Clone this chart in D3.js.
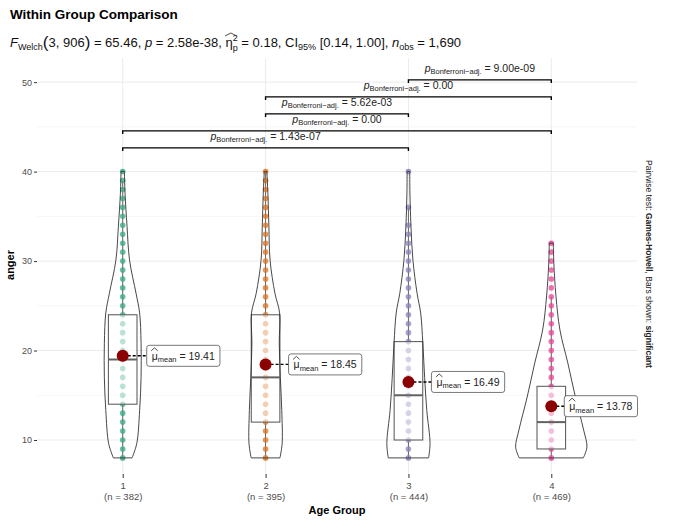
<!DOCTYPE html>
<html>
<head>
<meta charset="utf-8">
<script src="https://cdn.jsdelivr.net/npm/d3@7"></script>
<style>
  body { margin: 0; background: #fff; }
  svg { font-family: "Liberation Sans", Arial, sans-serif; }
</style>
</head>
<body>
<svg id="chart"></svg>
<script>
// ---- data ----
const groups = ["1", "2", "3", "4"];
const nObs = [382, 395, 444, 469];
const means = [19.41, 18.45, 16.49, 13.78];
const q1 = [14, 12, 10, 9];
const medians = [19, 17, 15, 12];
const q3 = [24, 24, 21, 16];
const whiskerLow = [8, 8, 8, 8];
const whiskerHigh = [39, 40, 36, 26];

const dots1 = [8, 9, 10, 11, 12, 13, 14, 15, 16, 17, 18, 19, 20, 21, 22, 23, 24, 25, 26, 27, 28, 29, 30, 31, 32, 33, 34, 35, 36, 37, 38, 39, 40];
const dots2 = [8, 9, 10, 11, 12, 13, 14, 15, 16, 17, 18, 19, 20, 21, 22, 23, 24, 25, 26, 27, 28, 29, 30, 31, 32, 33, 34, 35, 36, 37, 38, 39, 40];
const dots3 = [8, 9, 10, 11, 12, 13, 14, 15, 16, 17, 18, 19, 20, 21, 22, 23, 24, 25, 26, 27, 28, 29, 30, 31, 32, 33, 34, 36, 40];
const dots4 = [8, 9, 10, 11, 12, 13, 14, 15, 16, 17, 18, 19, 20, 21, 22, 23, 24, 25, 26, 27, 28, 29, 30, 31, 32];

// violin outline: anger level -> relative density
const violinLevels1 = [8, 9.6, 13.3, 17, 20.8, 24.2, 26.4, 30.1, 33.9, 37.6, 40];
const violinDensity1 = [0.26, 0.39, 0.47, 0.51, 0.51, 0.47, 0.37, 0.19, 0.12, 0.064, 0.047];
const violinLevels2 = [8, 9.6, 13.3, 17, 20.8, 24.2, 26.4, 30.1, 33.9, 37.6, 40];
const violinDensity2 = [0.40, 0.46, 0.45, 0.41, 0.38, 0.39, 0.26, 0.125, 0.092, 0.064, 0.036];
const violinLevels3 = [8, 9.6, 13.3, 17, 20.8, 24.2, 26.4, 30.1, 33.9, 37.6, 40];
const violinDensity3 = [0.56, 0.60, 0.51, 0.45, 0.40, 0.34, 0.24, 0.125, 0.07, 0.042, 0.036];
const violinLevels4 = [8, 9.2, 11.1, 14.8, 18.6, 22.3, 26.1, 29.8, 32];
const violinDensity4 = [0.89, 0.99, 0.90, 0.67, 0.46, 0.24, 0.13, 0.07, 0.056];

const pairs = [["1", "3"], ["1", "4"], ["2", "3"], ["2", "4"], ["3", "4"]];
const pLabels = ["1.43e-07", "0.00", "5.62e-03", "0.00", "9.00e-09"];

const yTicks = [10, 20, 30, 40, 50];
const yMinorTicks = [15, 25, 35, 45];

// ---- layout ----
const width = 685;
const height = 528;
const panel = { left: 37, right: 637, top: 58, bottom: 474 };
const colors = ["#1B9E77", "#D95F02", "#7570B3", "#E7298A"];
const labelNudge = [24, 23, 23, 13];
const barStart = 42.65;
const barStep = 1.9;

const dots = [dots1, dots2, dots3, dots4];
const violins = [
  [violinLevels1, violinDensity1],
  [violinLevels2, violinDensity2],
  [violinLevels3, violinDensity3],
  [violinLevels4, violinDensity4],
];

const svg = d3.select("#chart").attr("width", width).attr("height", height);

const xScale = d3.scalePoint().domain(groups).range([panel.left, panel.right]).padding(0.6);
const step = xScale.step();
const yScale = d3.scaleLinear().domain([6.2, 52.7]).range([panel.bottom, panel.top]);
const wScale = d3.scaleLinear().domain([0, 1]).range([0, 0.252 * step]);
const boxHalf = 0.1 * step;

// helper: text made of styled runs (sub/superscripts via dy)
function richText(text, segs) {
  let offset = 0;
  segs.forEach((s) => {
    const shift = s.shift || 0;
    const ts = text.append("tspan").text(s.t).attr("dy", shift - offset);
    offset = shift;
    if (s.size) ts.attr("font-size", s.size);
    if (s.italic) ts.attr("font-style", "italic");
    if (s.bold) ts.attr("font-weight", "bold");
    if (s.dx) ts.attr("dx", s.dx);
  });
  return text;
}

// draw a wide hat over character i of a text element
function hatOver(text, i, extra) {
  const r = text.node().getExtentOfChar(i);
  const x0 = r.x - 0.5;
  const x1 = r.x + r.width + (extra || 0);
  const yb = r.y + 1;
  svg.append("path")
    .attr("d", `M${x0},${yb} L${(x0 + x1) / 2},${yb - 3} L${x1},${yb}`)
    .attr("fill", "none")
    .attr("stroke", "#222")
    .attr("stroke-width", 0.8);
}

// ---- grid ----
const grid = svg.append("g");
grid.selectAll("line.minor")
  .data(yMinorTicks)
  .join("line")
  .attr("x1", panel.left).attr("x2", panel.right)
  .attr("y1", (d) => yScale(d)).attr("y2", (d) => yScale(d))
  .attr("stroke", "#F2F2F2").attr("stroke-width", 0.7);
grid.selectAll("line.major")
  .data(yTicks)
  .join("line")
  .attr("x1", panel.left).attr("x2", panel.right)
  .attr("y1", (d) => yScale(d)).attr("y2", (d) => yScale(d))
  .attr("stroke", "#EBEBEB").attr("stroke-width", 1);
grid.selectAll("line.vert")
  .data(groups)
  .join("line")
  .attr("x1", (d) => xScale(d)).attr("x2", (d) => xScale(d))
  .attr("y1", panel.top).attr("y2", panel.bottom)
  .attr("stroke", "#EBEBEB").attr("stroke-width", 1);

// ---- axes ----
const yAxis = svg.append("g")
  .attr("transform", `translate(${panel.left},0)`)
  .call(d3.axisLeft(yScale).tickValues(yTicks).tickSize(3).tickPadding(2))
  .call((g) => g.select(".domain").remove());
yAxis.selectAll(".tick line").attr("stroke", "#333");
yAxis.selectAll(".tick text").attr("fill", "#4D4D4D").attr("font-size", 9).attr("font-family", "Liberation Sans, Arial, sans-serif");

const xAxis = svg.append("g")
  .attr("transform", `translate(0,${panel.bottom})`)
  .call(d3.axisBottom(xScale).tickSize(4).tickPadding(4))
  .call((g) => g.select(".domain").remove());
xAxis.selectAll(".tick line").attr("stroke", "#333");
xAxis.selectAll(".tick text")
  .attr("fill", "#4D4D4D").attr("font-size", 9.5).attr("font-family", "Liberation Sans, Arial, sans-serif")
  .each(function (d, i) {
    const t = d3.select(this);
    t.text(null);
    t.append("tspan").attr("x", 0).text(d);
    t.append("tspan").attr("x", 0).attr("dy", "1.15em").text(`(n = ${nObs[i]})`);
  });

// ---- per-group marks ----
groups.forEach((g, i) => {
  const cx = xScale(g);

  // whiskers
  svg.append("line")
    .attr("x1", cx).attr("x2", cx)
    .attr("y1", yScale(q3[i])).attr("y2", yScale(whiskerHigh[i]))
    .attr("stroke", "#4D4D4D").attr("stroke-width", 1);
  svg.append("line")
    .attr("x1", cx).attr("x2", cx)
    .attr("y1", yScale(q1[i])).attr("y2", yScale(whiskerLow[i]))
    .attr("stroke", "#4D4D4D").attr("stroke-width", 1);

  // points
  svg.append("g")
    .selectAll("circle")
    .data(dots[i])
    .join("circle")
    .attr("cx", cx)
    .attr("cy", (d) => yScale(d))
    .attr("r", 2.8)
    .attr("fill", colors[i])
    .attr("fill-opacity", 0.75);

  // box
  svg.append("rect")
    .attr("x", cx - boxHalf)
    .attr("width", boxHalf * 2)
    .attr("y", yScale(q3[i]))
    .attr("height", yScale(q1[i]) - yScale(q3[i]))
    .attr("fill", "#fff").attr("fill-opacity", 0.55)
    .attr("stroke", "#4D4D4D").attr("stroke-width", 1.1);
  svg.append("line")
    .attr("x1", cx - boxHalf).attr("x2", cx + boxHalf)
    .attr("y1", yScale(medians[i])).attr("y2", yScale(medians[i]))
    .attr("stroke", "#4D4D4D").attr("stroke-width", 2);

  // violin
  const [lv, dn] = violins[i];
  const area = d3.area()
    .y((d) => yScale(d[0]))
    .x0((d) => cx - wScale(d[1]))
    .x1((d) => cx + wScale(d[1]))
    .curve(d3.curveCatmullRom);
  svg.append("path")
    .datum(lv.map((v, k) => [v, dn[k]]))
    .attr("d", area)
    .attr("fill", "#fff").attr("fill-opacity", 0.12)
    .attr("stroke", "#333").attr("stroke-width", 0.9);

  // mean point + label
  const my = yScale(means[i]);
  const lx = cx + labelNudge[i];
  svg.append("line")
    .attr("x1", cx).attr("x2", lx)
    .attr("y1", my).attr("y2", my)
    .attr("stroke", "#000").attr("stroke-width", 1.4).attr("stroke-dasharray", "3,2");
  svg.append("circle")
    .attr("cx", cx).attr("cy", my).attr("r", 6)
    .attr("fill", "#8B0000");

  const lab = svg.append("g");
  const rect = lab.append("rect");
  const txt = lab.append("text")
    .attr("x", lx + 5).attr("y", my + 4)
    .attr("font-size", 10.5).attr("fill", "#222");
  richText(txt, [
    { t: "μ" },
    { t: "mean", size: 7.5, shift: 2.5 },
    { t: ` = ${means[i].toFixed(2)}`, shift: 0 },
  ]);
  const bb = txt.node().getBBox();
  rect.attr("x", lx).attr("y", my - 10.5)
    .attr("width", bb.width + 10).attr("height", 21)
    .attr("rx", 2.5)
    .attr("fill", "#fff").attr("stroke", "#555").attr("stroke-width", 0.8);
  hatOver(txt, 0, 0);
});

// ---- pairwise significance bars ----
pairs.forEach((p, k) => {
  const level = yScale(barStart + k * barStep);
  const x1 = xScale(p[0]);
  const x2 = xScale(p[1]);
  const tip = yScale(barStart + k * barStep - 0.35) - level;
  svg.append("path")
    .attr("d", `M${x1},${level + tip} L${x1},${level} L${x2},${level} L${x2},${level + tip}`)
    .attr("fill", "none").attr("stroke", "#000").attr("stroke-width", 1.4);
  const t = svg.append("text")
    .attr("x", (x1 + x2) / 2).attr("y", level - 8)
    .attr("text-anchor", "middle")
    .attr("font-size", 10.5).attr("fill", "#222");
  richText(t, [
    { t: "p", italic: true },
    { t: "Bonferroni−adj.", size: 7.5, shift: 2.5 },
    { t: ` = ${pLabels[k]}`, shift: 0 },
  ]);
});

// ---- titles ----
svg.append("text")
  .attr("x", 10).attr("y", 19)
  .attr("font-size", 13.5).attr("font-weight", "bold").attr("fill", "#000")
  .text("Within Group Comparison");

const sub = svg.append("text")
  .attr("x", 10).attr("y", 47)
  .attr("font-size", 13).attr("fill", "#111");
richText(sub, [
  { t: "F", italic: true },
  { t: "Welch", size: 9, shift: 3 },
  { t: "(", size: 17, shift: 1 },
  { t: "3, 906", shift: 0 },
  { t: ")", size: 17, shift: 1 },
  { t: " = 65.46, ", shift: 0 },
  { t: "p", italic: true },
  { t: " = 2.58e-38, " },
  { t: "η" },
  { t: "2", size: 9, shift: -6 },
  { t: "p", size: 9, shift: 4, dx: -5 },
  { t: " = 0.18, CI", shift: 0 },
  { t: "95%", size: 9, shift: 3 },
  { t: " [0.14, 1.00], ", shift: 0 },
  { t: "n", italic: true },
  { t: "obs", size: 9, shift: 3 },
  { t: " = 1,690", shift: 0 },
]);
// hat over eta (char index of η in the concatenated text)
const subStr = sub.text();
hatOver(sub, subStr.indexOf("η"), 4);

// axis titles
svg.append("text")
  .attr("transform", `translate(14,265) rotate(-90)`)
  .attr("text-anchor", "middle")
  .attr("font-size", 11).attr("font-weight", "bold")
  .text("anger");
svg.append("text")
  .attr("x", (panel.left + panel.right) / 2).attr("y", 514)
  .attr("text-anchor", "middle")
  .attr("font-size", 11).attr("font-weight", "bold")
  .text("Age Group");

// right caption
const cap = svg.append("text")
  .attr("transform", `translate(646,264) rotate(90)`)
  .attr("text-anchor", "middle")
  .attr("font-size", 8.5).attr("fill", "#222");
richText(cap, [
  { t: "Pairwise test: " },
  { t: "Games-Howell", bold: true },
  { t: ", Bars shown: " },
  { t: "significant", bold: true },
]);
</script>
</body>
</html>
